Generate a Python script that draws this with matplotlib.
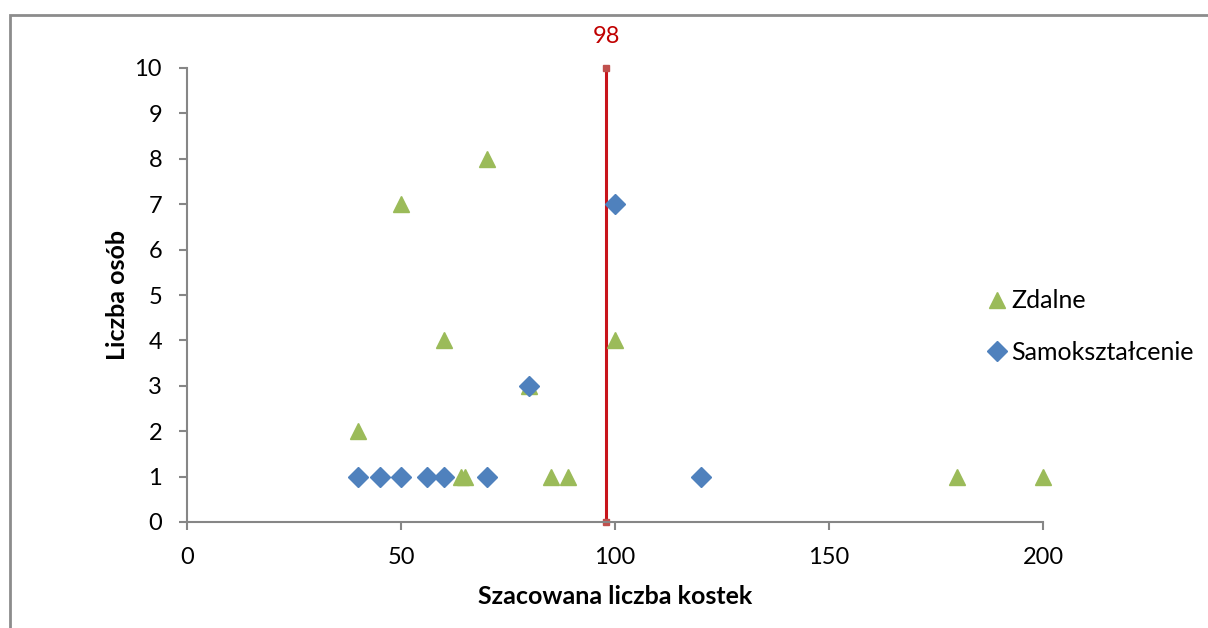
import matplotlib
matplotlib.use("Agg")
import matplotlib.pyplot as plt
from matplotlib.patches import Rectangle

plt.rcParams['font.family'] = ['Lato', 'DejaVu Sans']

# data
zdalne_x = [40, 50, 60, 70, 80, 100, 64, 65, 85, 89, 180, 200]
zdalne_y = [2, 7, 4, 8, 3, 4, 1, 1, 1, 1, 1, 1]
samo_x = [40, 45, 50, 56, 60, 70, 80, 100, 120]
samo_y = [1, 1, 1, 1, 1, 1, 3, 7, 1]
marker_x = [98, 98]
marker_y = [0, 10]
marker_label = "98"

fig = plt.figure(figsize=(12.08, 6.28), dpi=100)
ax = fig.add_axes([187 / 1208, 1 - 522 / 628, (1043 - 187) / 1208, (522 - 68) / 628])

# outer chart frame (only top/left visible in the crop)
fig.patches.append(Rectangle((10 / 1208, -0.1), 1.2, 1 - 15 / 628 + 0.1,
                             transform=fig.transFigure, fill=False,
                             edgecolor='#8c8c8c', linewidth=2, clip_on=False))

ax.plot(zdalne_x, zdalne_y, linestyle='none', marker='^', markersize=11.5,
        color='#9BBB59', label='Zdalne', zorder=3, clip_on=False)
ax.plot(samo_x, samo_y, linestyle='none', marker='D', markersize=10.5,
        color='#4F81BD', label='Samokształcenie', zorder=4, clip_on=False)

ax.plot(marker_x, marker_y, color='#C8141B', linewidth=2.2, marker='s',
        markersize=4, markerfacecolor='#C0504D', markeredgecolor='#C0504D',
        zorder=2, clip_on=False)
ax.annotate(marker_label, (marker_x[1], marker_y[1]), textcoords='offset points',
            xytext=(0, 15), ha='center', va='bottom', color='#C00000', fontsize=17)

ax.set_xlim(0, 200)
ax.set_ylim(0, 10)
ax.set_xticks([0, 50, 100, 150, 200])
ax.set_yticks(range(0, 11))

for s in ['top', 'right']:
    ax.spines[s].set_visible(False)
for s in ['left', 'bottom']:
    ax.spines[s].set_color('#868686')
    ax.spines[s].set_linewidth(1.5)
ax.tick_params(axis='both', colors='#868686', labelcolor='black', labelsize=17,
               length=6, width=1.5, direction='out')
ax.tick_params(axis='x', pad=12)
ax.tick_params(axis='y', pad=12)

ax.set_xlabel('Szacowana liczba kostek', fontsize=18, fontweight='bold', labelpad=12)
ax.set_ylabel('Liczba osób', fontsize=18, fontweight='bold', labelpad=4)

ax.legend(loc='center left', bbox_to_anchor=(0.926, 0.43), frameon=False,
          fontsize=18, handlelength=0.6, handletextpad=0.25, labelspacing=1.15,
          borderaxespad=0)

fig.savefig('out.png', dpi=100)
